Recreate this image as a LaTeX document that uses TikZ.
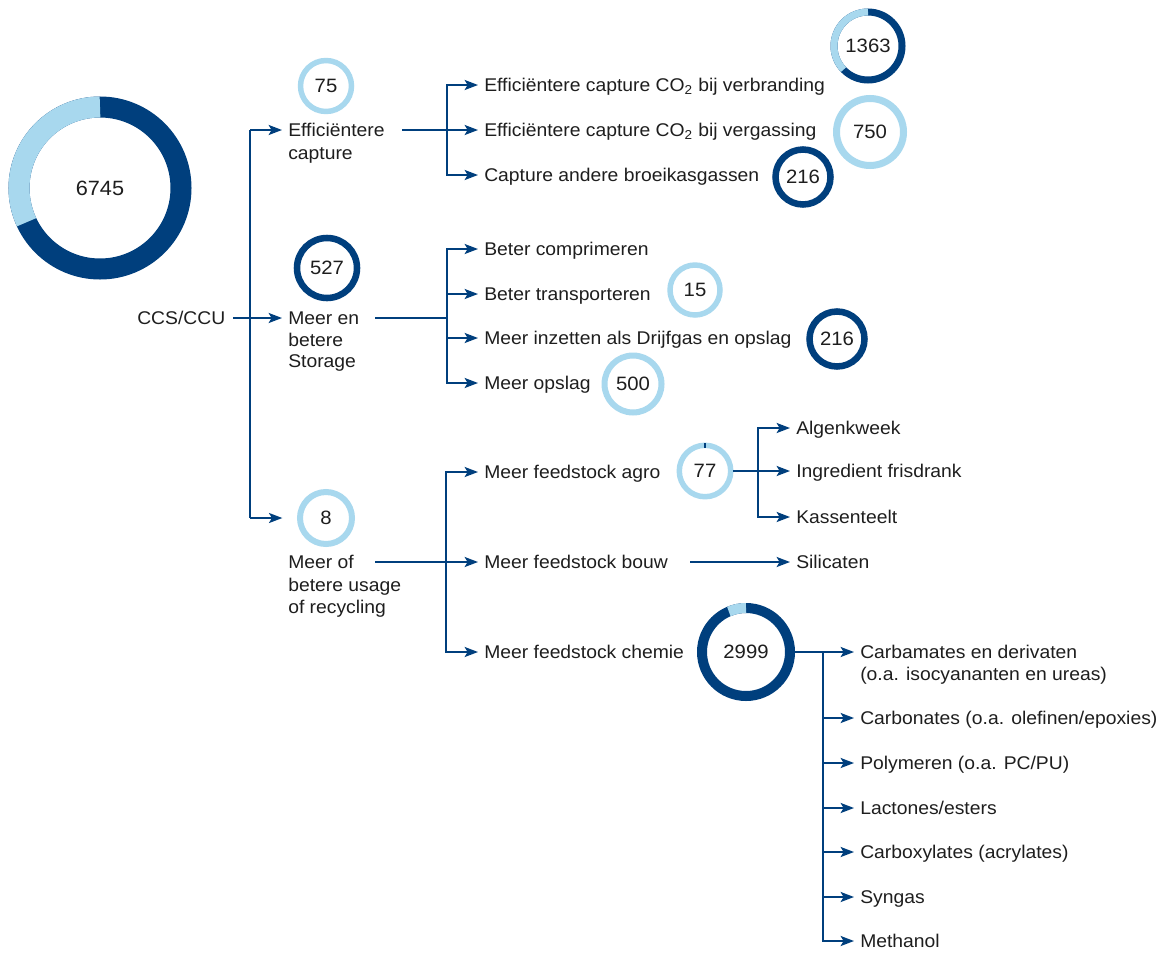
\documentclass[tikz,border=0pt]{standalone}
\usepackage{fontspec}
\setmainfont{Liberation Sans}[FakeStretch=1.05]
\usetikzlibrary{arrows.meta}
\definecolor{dk}{RGB}{0,63,125}
\definecolor{lt}{RGB}{168,216,238}
\definecolor{tx}{RGB}{30,30,30}
\begin{document}
\begin{tikzpicture}[x=0.75pt,y=-0.75pt,
  lbl/.style={anchor=west, inner xsep=4.5pt, inner ysep=0pt, text height=9.9pt, text depth=0pt, font=\fontsize{13.8}{16}\selectfont, text=tx},
  num/.style={circle, inner sep=0pt, font=\fontsize{14.5}{18}\selectfont, text=tx},
  conn/.style={draw=dk, line width=1.5pt},
  arr/.style={conn, -{Stealth[length=10pt,width=7.5pt,inset=2.2pt]}},
]
\useasboundingbox (0,0) rectangle (1162,953);
\fill[white] (0,0) rectangle (1162,953);

% ---------- rings ----------
\node[num, draw=dk, line width=15.75pt, minimum size=121.5pt, font=\fontsize{15.5}{18}\selectfont] (r6745) at (100,188) {6745};
\draw[lt, line width=15.75pt] (r6745.center) ++(-90:81) arc (-90:-205:81);

\node[num, draw=lt, line width=4.1pt, minimum size=38.25pt] (r75) at (326,86) {75};
\node[num, draw=dk, line width=4.9pt, minimum size=45pt] (r527) at (327,268) {527};
\node[num, draw=lt, line width=4.5pt, minimum size=39pt] (r8) at (326,518) {8};

\node[num, draw=dk, line width=5.25pt, minimum size=51pt] (r1363) at (868,46) {1363};
\draw[lt, line width=5.25pt] (r1363.center) ++(-90:34) arc (-90:-224:34);
\node[num, draw=lt, line width=5.25pt, minimum size=50.25pt] (r750) at (870,132) {750};
\node[num, draw=dk, line width=4.9pt, minimum size=41.25pt] (r216a) at (803,177) {216};

\node[num, draw=lt, line width=4.1pt, minimum size=37.5pt] (r15) at (695,290) {15};
\node[num, draw=dk, line width=4.9pt, minimum size=41.25pt] (r216b) at (837,339) {216};
\node[num, draw=lt, line width=4.5pt, minimum size=42.75pt] (r500) at (633,384) {500};

\node[num, draw=lt, line width=4.1pt, minimum size=38.6pt] (r77) at (705,471) {77};
\draw[dk, line width=4.1pt] (r77.center) ++(-88:25.75) arc (-88:-92:25.75);

\node[num, draw=dk, line width=7.5pt, minimum size=66pt] (r2999) at (746,652) {2999};
\draw[lt, line width=7.5pt] (r2999.center) ++(-90:44) arc (-90:-113:44);

% ---------- level 1 ----------
\node[lbl] (ccs) at (131,318) {CCS/CCU};
\node[lbl] (effA) at (282,130) {Efficiëntere};
\node[lbl] (effB) at (282,152.5) {capture};
\node[lbl] (storA) at (282,318) {Meer en};
\node[lbl] (storB) at (282,339.5) {betere};
\node[lbl] (storC) at (282,361) {Storage};
\node[lbl] (usgA) at (282,562) {Meer of};
\node[lbl] (usgB) at (282,584.5) {betere usage};
\node[lbl] (usgC) at (282,607) {of recycling};

% ---------- level 2 ----------
\node[lbl] (verb) at (478,85) {Efficiëntere capture CO\textsubscript{2} bij verbranding};
\node[lbl] (verg) at (478,130) {Efficiëntere capture CO\textsubscript{2} bij vergassing};
\node[lbl] (andere) at (478,175) {Capture andere broeikasgassen};
\node[lbl] (comp) at (478,249) {Beter comprimeren};
\node[lbl] (trans) at (478,294) {Beter transporteren};
\node[lbl] (drijf) at (478,338) {Meer inzetten als Drijfgas en opslag};
\node[lbl] (opsl) at (478,383) {Meer opslag};
\node[lbl] (agro) at (478,472) {Meer feedstock agro};
\node[lbl] (bouw) at (478,562) {Meer feedstock bouw};
\node[lbl] (chem) at (478,652) {Meer feedstock chemie};

% ---------- level 3 ----------
\node[lbl] (alg) at (790,428) {Algenkweek};
\node[lbl] (ingr) at (790,471) {Ingredient frisdrank};
\node[lbl] (kas) at (790,517) {Kassenteelt};
\node[lbl] (sil) at (790,562) {Silicaten};
\node[lbl] (carbA) at (854,652) {Carbamates en derivaten};
\node[lbl] (carbB) at (854,674) {(o.a. isocyananten en ureas)};
\node[lbl] (carbo) at (854,718) {Carbonates (o.a. olefinen/epoxies)};
\node[lbl] (poly) at (854,763) {Polymeren (o.a. PC/PU)};
\node[lbl] (lact) at (854,808) {Lactones/esters};
\node[lbl] (carbx) at (854,852) {Carboxylates (acrylates)};
\node[lbl] (syn) at (854,897) {Syngas};
\node[lbl] (meth) at (854,941) {Methanol};

% ---------- connectors ----------
\coordinate (ccsS) at (233,318);
\coordinate (trT) at (250,130);
\coordinate (trB) at (250,518);
\draw[arr] (ccsS) -- (storA.west);
\draw[conn] (trT) -- (trB);
\draw[arr] (trT) -- (effA.west);
\draw[arr] (trB) -- ([xshift=-11pt]r8.west);

\coordinate (capS) at (402,130);
\coordinate (capV) at (447,130);
\draw[arr] (capS) -- (verg.west);
\draw[arr] (capV) |- (verb.west);
\draw[arr] (capV) |- (andere.west);

\coordinate (stS) at (375,318);
\coordinate (stV) at (447,318);
\draw[conn] (stS) -- (stV);
\draw[arr] (stV) |- (comp.west);
\draw[arr] (stV) |- (trans.west);
\draw[arr] (stV) |- (drijf.west);
\draw[arr] (stV) |- (opsl.west);

\coordinate (usS) at (375,562);
\coordinate (usV) at (446,562);
\draw[arr] (usS) -- (bouw.west);
\draw[arr] (usV) |- (agro.west);
\draw[arr] (usV) |- (chem.west);

\coordinate (agV) at (758,471);
\draw[arr] (r77.east) -- (ingr.west);
\draw[arr] (agV) |- (alg.west);
\draw[arr] (agV) |- (kas.west);

\coordinate (bouwS) at (690,562);
\draw[arr] (bouwS) -- (sil.west);

\coordinate (chV) at (823,652);
\draw[arr] (r2999.east) -- (carbA.west);
\draw[arr] (chV) |- (carbo.west);
\draw[arr] (chV) |- (poly.west);
\draw[arr] (chV) |- (lact.west);
\draw[arr] (chV) |- (carbx.west);
\draw[arr] (chV) |- (syn.west);
\draw[arr] (chV) |- (meth.west);
\end{tikzpicture}
\end{document}
